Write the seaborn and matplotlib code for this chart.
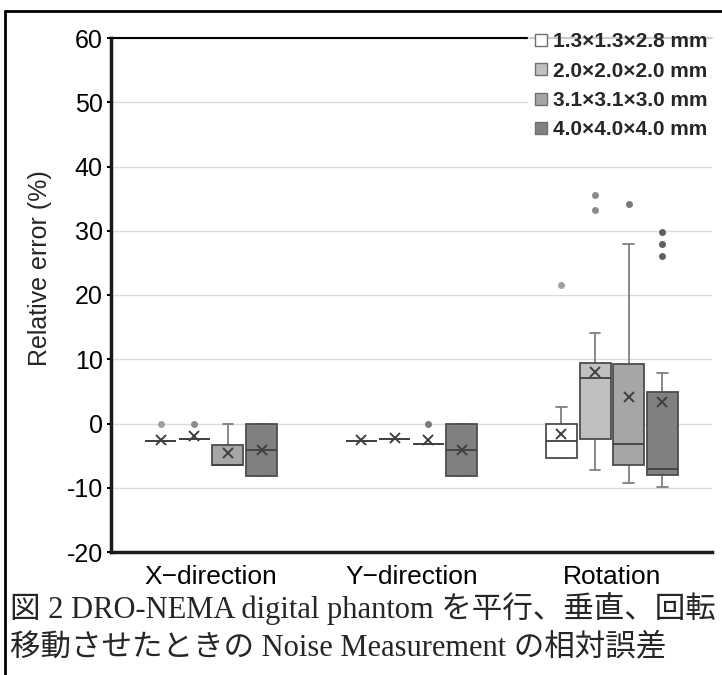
import seaborn as sns
import matplotlib
matplotlib.use("Agg")
import matplotlib.pyplot as plt
from matplotlib.lines import Line2D

# ---------------------------------------------------------
# Data
# ---------------------------------------------------------
groups = ["X\u2212direction", "Y\u2212direction", "Rotation"]
sizes = ["1.3×1.3×2.8 mm", "2.0×2.0×2.0 mm", "3.1×3.1×3.0 mm", "4.0×4.0×4.0 mm"]

# rows = voxel size, columns = group
q1 = [[-2.7, -2.75, -5.4], [-2.4, -2.4, -2.45], [-6.45, -3.2, -6.4], [-8.1, -8.1, -8.05]]
med = [[-2.7, -2.75, -2.75], [-2.4, -2.4, 7.15], [-6.45, -3.2, -3.2], [-4.05, -4.05, -7.1]]
q3 = [[-2.7, -2.75, 0.0], [-2.4, -2.4, 9.4], [-3.3, -3.2, 9.25], [0.0, 0.0, 4.9]]
whislo = [[-2.7, -2.75, -5.4], [-2.4, -2.4, -7.3], [-6.45, -3.2, -9.3], [-8.1, -8.1, -9.9]]
whishi = [[-2.7, -2.75, 2.6], [-2.4, -2.4, 14.1], [0.0, -3.2, 27.9], [0.0, 0.0, 7.9]]
means = [[-2.5, -2.55, -1.7], [-1.9, -2.2, 8.05], [-4.6, -2.55, 4.1], [-4.05, -4.05, 3.4]]
fliers = [[[0.0], [], [21.5]],
          [[0.0], [], [35.5, 33.2]],
          [[], [0.0], [34.2]],
          [[], [], [29.8, 27.9, 26.0]]]

caption = ["図 2 DRO-NEMA digital phantom を平行、垂直、回転",
           "移動させたときの Noise Measurement の相対誤差"]

# ---------------------------------------------------------
# Style
# ---------------------------------------------------------
sns.set_theme(style="white")
plt.rcParams["font.family"] = ["Liberation Sans", "DejaVu Sans"]
plt.rcParams["axes.unicode_minus"] = False

fills = ["#ffffff", "#c0c0c0", "#a6a6a6", "#808080"]
flier_cols = ["#a0a0a0", "#8c8c8c", "#7a7a7a", "#606060"]

fig = plt.figure(figsize=(7.22, 6.75), dpi=100)
ax = fig.add_axes([111 / 722, 1 - 552 / 675, 601 / 722, 514 / 675])

step = 0.1675
width = 0.155

for i in range(len(sizes)):
    stats = []
    for g in range(len(groups)):
        stats.append(dict(q1=q1[i][g], med=med[i][g], q3=q3[i][g],
                          whislo=whislo[i][g], whishi=whishi[i][g],
                          mean=means[i][g], fliers=fliers[i][g]))
    pos = [g + (i - 1.5) * step for g in range(len(groups))]
    ax.bxp(stats, positions=pos, widths=width, patch_artist=True,
           showmeans=True, manage_ticks=False,
           boxprops=dict(facecolor=fills[i], edgecolor="#4d4d4d", linewidth=1.3, zorder=3),
           medianprops=dict(color="#404040", linewidth=1.3, zorder=4),
           whiskerprops=dict(color="#808080", linewidth=1.3, zorder=2),
           capprops=dict(color="#808080", linewidth=1.3, zorder=2),
           capwidths=width * 0.35,
           meanprops=dict(marker="x", markeredgecolor="#404040", markersize=7,
                          markeredgewidth=1.4, zorder=5),
           flierprops=dict(marker="o", markerfacecolor=flier_cols[i],
                           markeredgecolor=flier_cols[i], markersize=4))

ax.set_xlim(-0.5, 2.5)
ax.set_ylim(-20, 60)
ax.set_yticks(range(-20, 61, 10))
ax.set_xticks(range(len(groups)))
ax.set_xticklabels(groups, fontsize=19)
ax.tick_params(axis="y", labelsize=18, length=3, width=1.5, direction="out",
               left=True, pad=3, colors="black")
ax.tick_params(axis="x", length=0, pad=9, colors="black")
ax.yaxis.grid(True, color="#dcdcdc", linewidth=1)
ax.set_axisbelow(True)

ax.set_ylabel("Relative error (%)", fontsize=18)
ax.yaxis.set_label_coords(-0.098, 0.553)

for s in ["left", "bottom"]:
    ax.spines[s].set_color("#1a1a1a")
    ax.spines[s].set_linewidth(2.5)
ax.spines["top"].set_color("black")
ax.spines["top"].set_linewidth(1.5)
ax.spines["right"].set_visible(False)

handles = [Line2D([], [], marker="s", linestyle="none", markerfacecolor=c,
                  markeredgecolor="#707070", markersize=8) for c in fills]
leg = ax.legend(handles, sizes, loc="upper right",
                bbox_to_anchor=(712 / 722, 1 - 28 / 675), bbox_transform=fig.transFigure,
                prop=dict(weight="bold", size=15), frameon=True, fancybox=False,
                borderpad=0.2, labelspacing=0.5, handletextpad=0.2, handlelength=0.8,
                borderaxespad=0)
leg.get_frame().set_facecolor("white")
leg.get_frame().set_edgecolor("white")

# caption below the chart
fig.text(10 / 722, 1 - 609 / 675, caption[0], fontsize=22, va="center", ha="left",
         family=["Liberation Serif", "Noto Sans CJK JP"])
fig.text(10 / 722, 1 - 648 / 675, caption[1], fontsize=22, va="center", ha="left",
         family=["Liberation Serif", "Noto Sans CJK JP"])

# page frame (left and top edges)
fig.add_artist(Line2D([5 / 722, 5 / 722], [0, 1 - 11 / 675], transform=fig.transFigure,
                      color="black", linewidth=2))
fig.add_artist(Line2D([5 / 722, 1], [1 - 11 / 675, 1 - 11 / 675], transform=fig.transFigure,
                      color="black", linewidth=2))

fig.savefig("out.png", dpi=100)
